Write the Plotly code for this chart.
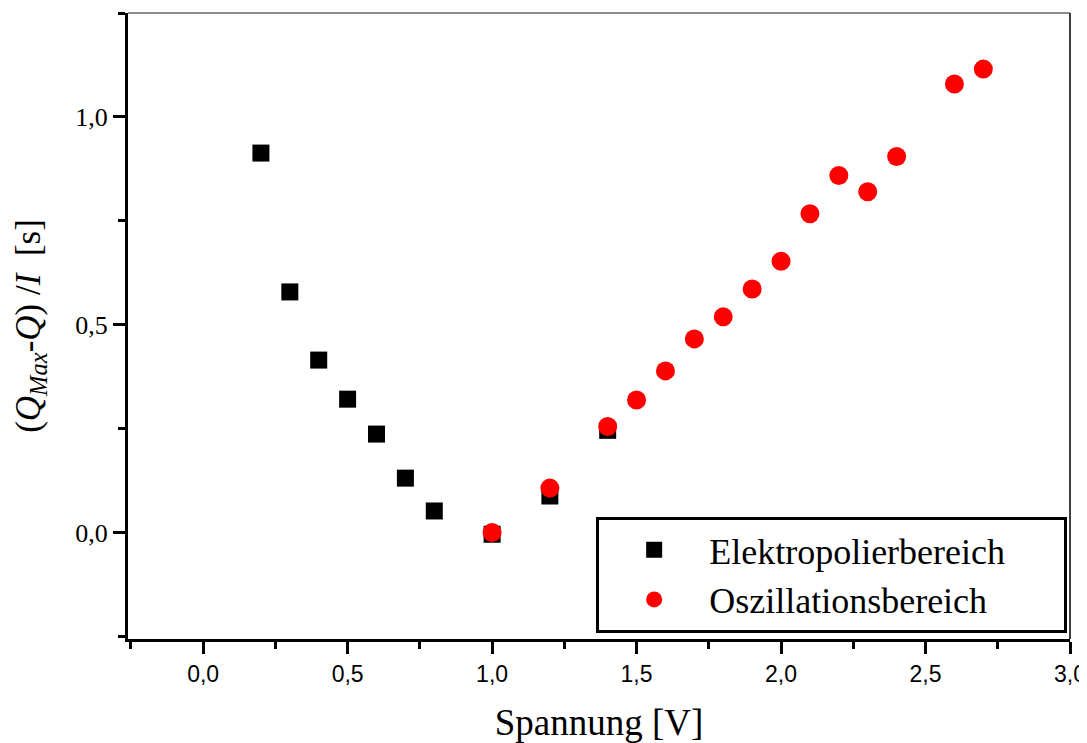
import plotly.graph_objects as go

# Elektropolierbereich (black squares)
elektro_x = [0.2, 0.3, 0.4, 0.5, 0.6, 0.7, 0.8, 1.0, 1.2, 1.4]
elektro_y = [0.913, 0.579, 0.415, 0.321, 0.237, 0.131, 0.052, -0.004, 0.088, 0.246]

# Oszillationsbereich (red circles)
osz_x = [1.0, 1.2, 1.4, 1.5, 1.6, 1.7, 1.8, 1.9, 2.0, 2.1, 2.2, 2.3, 2.4, 2.6, 2.7]
osz_y = [0.0, 0.107, 0.255, 0.319, 0.389, 0.466, 0.519, 0.586, 0.653, 0.767, 0.859,
         0.820, 0.905, 1.079, 1.115]

x_tickvals = [0.0, 0.5, 1.0, 1.5, 2.0, 2.5, 3.0]
x_ticktext = ["0,0", "0,5", "1,0", "1,5", "2,0", "2,5", "3,0"]
y_tickvals = [0.0, 0.5, 1.0]
y_ticktext = ["0,0", "0,5", "1,0"]

SERIF = "Liberation Serif, Times New Roman, serif"
SANS = "Liberation Sans, Arial, sans-serif"
PAD = "\u00a0" * 6

fig = go.Figure()
fig.add_trace(go.Scatter(
    x=elektro_x, y=elektro_y, mode="markers", name="Elektropolierbereich" + PAD,
    marker=dict(symbol="square", size=17, color="black", line=dict(width=0)),
))
fig.add_trace(go.Scatter(
    x=osz_x, y=osz_y, mode="markers", name="Oszillationsbereich" + PAD,
    marker=dict(symbol="circle", size=19, color="#ff0000", line=dict(width=0)),
))

fig.update_layout(
    width=1079, height=735,
    margin=dict(l=120, r=17, t=5, b=104, autoexpand=False),
    paper_bgcolor="white", plot_bgcolor="white",
    separators=",.",
    showlegend=True,
    legend=dict(
        x=0.997, y=0.01, xanchor="right", yanchor="bottom",
        bordercolor="black", borderwidth=3, bgcolor="white",
        font=dict(family=SERIF, size=36, color="black"),
        itemwidth=100, tracegroupgap=0,
    ),
    xaxis=dict(
        range=[-0.26, 3.0], showgrid=False, zeroline=False, automargin=False,
        showline=True, linecolor="black", linewidth=3,
        ticks="outside", ticklen=12, tickwidth=3, tickcolor="black",
        tickvals=x_tickvals, ticktext=x_ticktext,
        tickfont=dict(family=SANS, size=23, color="black"),
        minor=dict(dtick=0.25, tick0=0, ticks="outside", ticklen=7, tickwidth=3, tickcolor="black"),
        title=dict(text="Spannung [V]", font=dict(family=SERIF, size=37, color="black"), standoff=29),
    ),
    yaxis=dict(
        range=[-0.256, 1.25], showgrid=False, zeroline=False, automargin=False,
        showline=True, linecolor="black", linewidth=3,
        ticks="outside", ticklen=12, tickwidth=3, tickcolor="black",
        tickvals=y_tickvals, ticktext=y_ticktext,
        tickfont=dict(family=SERIF, size=26, color="black"),
        minor=dict(dtick=0.25, tick0=0, ticks="outside", ticklen=7, tickwidth=3, tickcolor="black"),
        title=dict(text="(<i>Q</i><sub><i>Max</i></sub>-<i>Q</i>) /<i>I</i>  [s]",
                   font=dict(family=SERIF, size=35, color="black"), standoff=25),
    ),
    shapes=[
        dict(type="line", xref="paper", yref="paper", x0=0, x1=1, y0=1, y1=1,
             line=dict(color="#666666", width=1.5)),
        dict(type="line", xref="paper", yref="paper", x0=1, x1=1, y0=0, y1=1,
             line=dict(color="black", width=1.5)),
    ],
)

fig.write_html("out.html")
